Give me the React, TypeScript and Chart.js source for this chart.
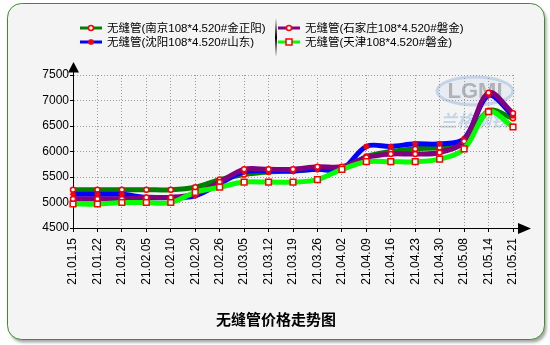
import { useEffect, useRef } from 'react';
import { Chart, registerables } from 'chart.js';

Chart.register(...registerables);

const labels = [
  '21.01.15', '21.01.22', '21.01.29', '21.02.05', '21.02.10', '21.02.20', '21.02.26',
  '21.03.05', '21.03.12', '21.03.19', '21.03.26', '21.04.02', '21.04.09', '21.04.16',
  '21.04.23', '21.04.30', '21.05.08', '21.05.14', '21.05.21',
];

const nanjing = [5250, 5250, 5250, 5250, 5250, 5300, 5450, 5550, 5600, 5620, 5650, 5650, 5900, 6000, 6050, 6080, 6150, 6800, 6650];
const shenyang = [5160, 5160, 5160, 5100, 5100, 5130, 5370, 5600, 5620, 5620, 5650, 5650, 6100, 6100, 6150, 6150, 6250, 7100, 6700];
const shijiazhuang = [5070, 5070, 5070, 5100, 5100, 5170, 5400, 5650, 5650, 5650, 5700, 5700, 5880, 5950, 5950, 5980, 6200, 7150, 6750];
const tianjin = [4970, 4970, 5000, 5000, 5000, 5200, 5300, 5400, 5400, 5400, 5450, 5650, 5800, 5800, 5800, 5850, 6050, 6780, 6480];

const seriesNames = [
  '无缝管(南京108*4.520#金正阳)',
  '无缝管(沈阳108*4.520#山东)',
  '无缝管(石家庄108*4.520#磐金)',
  '无缝管(天津108*4.520#磐金)',
];
const seriesColors = ['#008000', '#0000ff', '#800080', '#00ff00'];
const seriesMarkers = ['circle', 'star', 'circle', 'rect'];

const titleText = '无缝管价格走势图';
const yMin = 4500;
const yMax = 7500;
const yStep = 500;

const FONT = '"Liberation Sans", Arial, "Noto Sans CJK SC", sans-serif';

function drawMarker(ctx: CanvasRenderingContext2D, style: string, x: number, y: number) {
  ctx.save();
  ctx.strokeStyle = '#ff0000';
  ctx.fillStyle = '#ffffff';
  ctx.lineWidth = 1.5;
  if (style === 'circle') {
    ctx.beginPath();
    ctx.arc(x, y, 2.5, 0, Math.PI * 2);
    ctx.fill();
    ctx.stroke();
  } else if (style === 'rect') {
    ctx.fillRect(x - 3, y - 3, 6, 6);
    ctx.strokeRect(x - 3, y - 3, 6, 6);
  } else {
    ctx.beginPath();
    ctx.moveTo(x - 3, y); ctx.lineTo(x + 3, y);
    ctx.moveTo(x, y - 3); ctx.lineTo(x, y + 3);
    ctx.moveTo(x - 2.2, y - 2.2); ctx.lineTo(x + 2.2, y + 2.2);
    ctx.moveTo(x - 2.2, y + 2.2); ctx.lineTo(x + 2.2, y - 2.2);
    ctx.stroke();
  }
  ctx.restore();
}

const framePlugin = {
  id: 'frame',
  beforeDraw(chart: any) {
    const ctx: CanvasRenderingContext2D = chart.ctx;
    ctx.save();
    ctx.fillStyle = '#ffffff';
    ctx.fillRect(0, 0, chart.width, chart.height);
    ctx.shadowColor = 'rgba(0,0,0,0.35)';
    ctx.shadowOffsetX = 2;
    ctx.shadowOffsetY = 3;
    ctx.shadowBlur = 3;
    ctx.beginPath();
    (ctx as any).roundRect(7.5, 3.5, 537, 336, 14);
    ctx.fillStyle = '#f4f4f4';
    ctx.fill();
    ctx.shadowColor = 'transparent';
    ctx.strokeStyle = '#3a8f2a';
    ctx.lineWidth = 1;
    ctx.stroke();

    // watermark
    ctx.globalAlpha = 0.6;
    ctx.beginPath();
    ctx.ellipse(475, 91, 38, 14, 0, 0, Math.PI * 2);
    ctx.fillStyle = '#dde6f0';
    ctx.fill();
    ctx.lineWidth = 3;
    ctx.strokeStyle = '#a9c2dd';
    ctx.stroke();
    ctx.font = 'bold 22px "Liberation Sans", Arial';
    ctx.fillStyle = '#8c8c8c';
    ctx.textAlign = 'center';
    ctx.textBaseline = 'middle';
    ctx.fillText('LGMI', 475, 92);
    ctx.font = 'italic bold 17px "Noto Sans CJK SC"';
    ctx.fillStyle = '#a9c2dd';
    ctx.fillText('兰格钢铁', 474, 121);
    ctx.restore();
  },
};

const overlayPlugin = {
  id: 'overlay',
  afterDraw(chart: any) {
    const ctx: CanvasRenderingContext2D = chart.ctx;
    const area = chart.chartArea;
    ctx.save();
    // axis arrows
    ctx.fillStyle = '#000';
    ctx.strokeStyle = '#000';
    ctx.lineWidth = 1;
    ctx.beginPath();
    ctx.moveTo(area.left + 0.5, 62);
    ctx.lineTo(area.left - 5, 72.5);
    ctx.lineTo(area.left + 6, 72.5);
    ctx.closePath();
    ctx.fill();
    ctx.beginPath();
    ctx.moveTo(area.left + 0.5, 72);
    ctx.lineTo(area.left + 0.5, area.top);
    ctx.stroke();
    ctx.beginPath();
    ctx.moveTo(area.right, area.bottom + 0.5);
    ctx.lineTo(519, area.bottom + 0.5);
    ctx.stroke();
    ctx.beginPath();
    ctx.moveTo(531, area.bottom + 0.5);
    ctx.lineTo(518, area.bottom - 5);
    ctx.lineTo(518, area.bottom + 6);
    ctx.closePath();
    ctx.fill();

    // legend
    const cols = [80, 278];
    const rows = [28, 42];
    const order = [0, 2, 1, 3];
    order.forEach((di, k) => {
      const col = cols[k % 2];
      const row = rows[Math.floor(k / 2)];
      ctx.strokeStyle = seriesColors[di];
      ctx.lineWidth = 3;
      ctx.beginPath();
      ctx.moveTo(col, row);
      ctx.lineTo(col + 22, row);
      ctx.stroke();
      drawMarker(ctx, seriesMarkers[di], col + 11, row);
      ctx.fillStyle = '#000';
      ctx.font = '11.5px ' + FONT;
      ctx.textAlign = 'left';
      ctx.textBaseline = 'middle';
      ctx.fillText(seriesNames[di], col + 27, row + 1);
    });
    const g = ctx.createLinearGradient(0, 18, 0, 57);
    g.addColorStop(0, 'rgba(0,0,0,0)');
    g.addColorStop(0.5, 'rgba(0,0,0,1)');
    g.addColorStop(1, 'rgba(0,0,0,0)');
    ctx.fillStyle = g;
    ctx.fillRect(275, 18, 2, 39);

    // title
    ctx.fillStyle = '#000';
    ctx.font = 'bold 15px "Noto Sans CJK SC", sans-serif';
    ctx.textAlign = 'center';
    ctx.textBaseline = 'middle';
    ctx.fillText(titleText, 276, 319);
    ctx.restore();
  },
};

function makeDataset(i: number, data: number[], order: number) {
  const style = seriesMarkers[i];
  return {
    label: seriesNames[i],
    data,
    borderColor: seriesColors[i],
    backgroundColor: seriesColors[i],
    borderWidth: 5,
    tension: 0.35,
    fill: false,
    order,
    pointStyle: style,
    pointRadius: style === 'rect' ? 4 : style === 'star' ? 3 : 2.5,
    pointBorderWidth: 1.5,
    pointBorderColor: '#ff0000',
    pointBackgroundColor: '#ffffff',
  };
}

export default function App() {
  const ref = useRef<HTMLCanvasElement>(null);
  useEffect(() => {
    const canvas = ref.current;
    if (!canvas) return;
    const tickFont = { family: FONT, size: 12 };
    const chart = new Chart(canvas, {
      type: 'line',
      data: {
        labels,
        datasets: [
          makeDataset(0, nanjing, 3),
          makeDataset(1, shenyang, 2),
          makeDataset(2, shijiazhuang, 1),
          makeDataset(3, tianjin, 0),
        ] as any,
      },
      options: {
        responsive: false,
        animation: false,
        devicePixelRatio: 1,
        events: [],
        layout: { padding: { left: 0, top: 75, right: 37, bottom: 57 } },
        plugins: {
          legend: { display: false },
          tooltip: { enabled: false },
          title: { display: false },
        },
        scales: {
          x: {
            type: 'category',
            offset: false,
            grid: {
              color: '#9a9a9a',
              lineWidth: 1,
              drawTicks: true,
              tickLength: 4,
              tickColor: '#000',
              tickBorderDash: [],
            },
            border: { display: true, color: '#000', width: 1, dash: [1, 2] },
            ticks: {
              autoSkip: false,
              minRotation: 90,
              maxRotation: 90,
              padding: 6,
              color: '#000',
              font: tickFont,
            },
            afterFit: (s: any) => { s.height = 60; },
          },
          y: {
            min: yMin,
            max: yMax,
            grid: {
              color: '#9a9a9a',
              lineWidth: 1,
              drawTicks: true,
              tickLength: 3,
              tickColor: '#000',
              tickBorderDash: [],
            },
            border: { display: true, color: '#000', width: 1, dash: [1, 2] },
            ticks: {
              stepSize: yStep,
              padding: 1,
              color: '#000',
              font: tickFont,
              callback: (v: any) => String(v),
            },
            afterFit: (s: any) => { s.width = 73; },
          },
        },
      } as any,
      plugins: [framePlugin, overlayPlugin],
    });
    return () => chart.destroy();
  }, []);
  return (
    <div style={{ position: 'fixed', left: 0, top: 0, width: 550, height: 345 }}>
      <canvas ref={ref} width={550} height={345} style={{ display: 'block', width: 550, height: 345 }} />
    </div>
  );
}
